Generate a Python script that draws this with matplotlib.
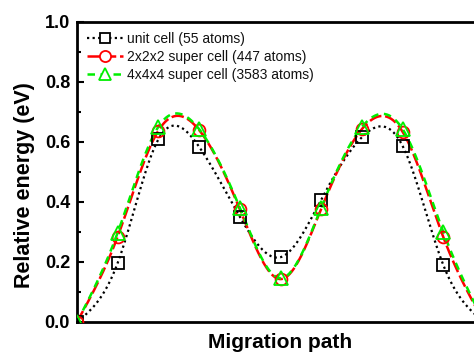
import numpy as np
import matplotlib
matplotlib.use("Agg")
import matplotlib.pyplot as plt

plt.rcParams['font.family'] = ['Liberation Sans', 'DejaVu Sans']

path_index = [0, 1, 2, 3, 4, 5, 6, 7, 8, 9, 10]
unit_cell = [0.0, 0.197, 0.609, 0.584, 0.351, 0.216, 0.408, 0.616, 0.587, 0.190, 0.0]
super_2x2x2 = [0.0, 0.285, 0.638, 0.640, 0.376, 0.143, 0.377, 0.643, 0.634, 0.283, 0.0]
super_4x4x4 = [0.0, 0.298, 0.651, 0.643, 0.381, 0.146, 0.381, 0.650, 0.643, 0.300, 0.0]
labels = ['unit cell (55 atoms)', '2x2x2 super cell (447 atoms)', '4x4x4 super cell (3583 atoms)']


def natural_spline(x, y, xs):
    x = np.asarray(x, float); y = np.asarray(y, float)
    n = len(x)
    h = np.diff(x)
    A = np.zeros((n, n)); b = np.zeros(n)
    A[0, 0] = 1; A[-1, -1] = 1
    for i in range(1, n - 1):
        A[i, i - 1] = h[i - 1]
        A[i, i] = 2 * (h[i - 1] + h[i])
        A[i, i + 1] = h[i]
        b[i] = 6 * ((y[i + 1] - y[i]) / h[i] - (y[i] - y[i - 1]) / h[i - 1])
    M = np.linalg.solve(A, b)
    idx = np.clip(np.searchsorted(x, xs) - 1, 0, n - 2)
    x0 = x[idx]; x1 = x[idx + 1]; hh = x1 - x0
    t0 = x1 - xs; t1 = xs - x0
    return (M[idx] * t0**3 / (6 * hh) + M[idx + 1] * t1**3 / (6 * hh)
            + (y[idx] / hh - M[idx] * hh / 6) * t0
            + (y[idx + 1] / hh - M[idx + 1] * hh / 6) * t1)


fig = plt.figure(figsize=(4.74, 3.55), dpi=100)
ax = fig.add_axes([77/474, 33/355, (484-77)/474, 300/355])

xs = np.linspace(0, 10, 600)
styles = [
    dict(color='black', ls=(0, (1, 1.5)), lw=1.6, marker='s', ms=8, mec='black'),
    dict(color='#ff0000', ls=(0, (5, 1.5)), lw=1.8, marker='o', ms=8.5, mec='#ff0000'),
    dict(color='#00ee00', ls=(0, (3, 2.2)), lw=1.8, marker='^', ms=9.5, mec='#00ee00'),
]
handles = []
for data, st, lab in zip([unit_cell, super_2x2x2, super_4x4x4], styles, labels):
    ys = natural_spline(path_index, data, xs)
    ax.plot(xs, ys, color=st['color'], ls=st['ls'], lw=st['lw'], zorder=2)
    ax.plot(path_index, data, ls='none', marker=st['marker'], ms=st['ms'],
            mfc='none', mec=st['mec'], mew=1.3, zorder=3)
    h, = ax.plot([], [], color=st['color'], ls=st['ls'], lw=st['lw'], marker=st['marker'],
                 ms=st['ms'] - 0.5, mfc='white', mec=st['mec'], mew=1.3, label=lab)
    handles.append(h)

ax.set_xlim(0, 10)
ax.set_ylim(0, 1.0)
ax.set_xticks([])
ax.set_yticks([0.0, 0.2, 0.4, 0.6, 0.8, 1.0])
ax.set_yticks(np.arange(0.1, 1.0, 0.2), minor=True)
ax.yaxis.set_major_formatter(matplotlib.ticker.FormatStrFormatter('%.1f'))
ax.tick_params(axis='y', which='major', direction='in', length=5, width=1.5,
               labelsize=13, pad=5)
ax.tick_params(axis='y', which='minor', direction='in', length=3, width=1.5)
for lab in ax.get_yticklabels():
    lab.set_fontweight('bold')
for sp in ax.spines.values():
    sp.set_linewidth(2)

ax.set_ylabel('Relative energy (eV)', fontsize=15.5, fontweight='bold')
ax.yaxis.set_label_coords(-0.103, 0.457)
ax.set_xlabel('Migration path', fontsize=15, fontweight='bold', labelpad=8)

leg = ax.legend(handles=handles, loc='upper left', frameon=False, fontsize=10,
                handlelength=2.6, handletextpad=0.3, borderaxespad=0.3,
                labelspacing=0.3, numpoints=1, bbox_to_anchor=(0.0, 1.0))
for t in leg.get_texts():
    t.set_color('#111111')

fig.savefig('out.png', dpi=100)
